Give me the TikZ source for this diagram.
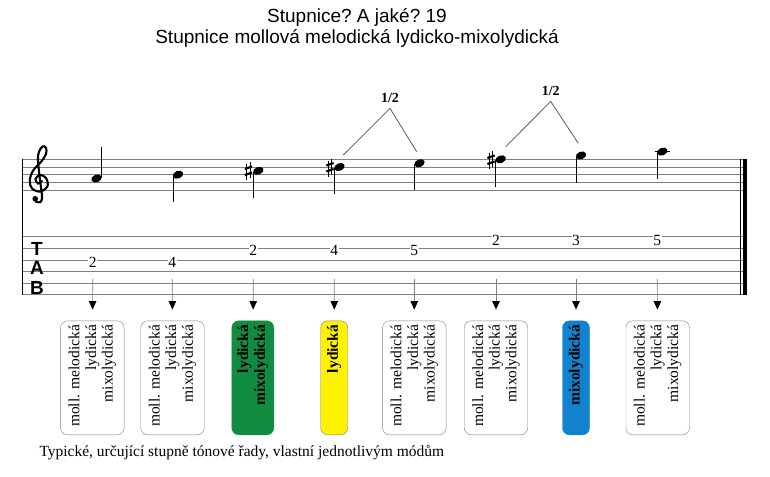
\documentclass[tikz,border=0pt]{standalone}
\usepackage{fontspec}
\setmainfont{Liberation Serif}
\newfontfamily\headfont{Liberation Sans}
\usepackage{tikz}
\usetikzlibrary{arrows.meta}
\usetikzlibrary{shapes.geometric}

\definecolor{modegreen}{RGB}{18,140,64}
\definecolor{modeyellow}{RGB}{255,242,0}
\definecolor{modeblue}{RGB}{16,130,206}
\definecolor{staffgray}{gray}{0.5}

\tikzset{
	sharpsign/.pic={
		\draw[line width=0.9] (-1.7,-7) -- (-1.7,9) (1.7,-9) -- (1.7,7);
		\draw[line width=2.2] (-3.6,-2) -- (3.6,-4.5) (-3.6,4) -- (3.6,1.5);
	}
}

\begin{document}
\frenchspacing
\begin{tikzpicture}[x=1pt, y=-1pt]
	\useasboundingbox (0,0) rectangle (770,476);
	\node[font=\headfont\fontsize{19}{19}\selectfont] (title) at (357,17) {Stupnice? A jaké? 19};
	\node[font=\headfont\fontsize{19}{19}\selectfont] (subtitle) at (357,38) {Stupnice mollová melodická lydicko-mixolydická};
	\begin{scope}[staffgray, line width=0.8]
		\foreach \y in {159.3,167,174.7,182.3,190} \draw (22.7,\y) -- (745,\y);
		\foreach \y in {236.7,248.3,260,271.5,283.1,294.7} \draw (22.7,\y) -- (745,\y);
	\end{scope}
	\draw[line width=0.9] (22.7,159.3) -- (22.7,294.7);
	\draw[line width=0.9] (740,159.3) -- (740,294.7);
	\draw[line width=4] (744.7,159.3) -- (744.7,294.7);
	\draw[line width=2.1, line cap=round] plot[smooth, tension=0.6] coordinates {(42,181) (38,183.5) (35.5,179) (40,175) (46,178) (47.5,186) (40.5,191.5) (32,188.5) (29.8,180) (33.5,170) (41,162) (46,154) (46,148) (43,146.3) (39.3,151) (38,160) (40,180) (42,196) (40.5,202) (35.5,201.5)};
	\fill (35.2,198.8) circle (2.8);
	\begin{scope}[every node/.style = {font = \headfont\bfseries\fontsize{19}{19}\selectfont, inner sep = 0}]
		\node (tT) at (37,249) {T};
		\node (tA) at (37,268) {A};
		\node (tB) at (37,288) {B};
	\end{scope}
	\begin{scope}[every node/.style = {ellipse, fill, minimum width = 10.8, minimum height = 7.6, inner sep = 0, rotate = 22}]
		\node (n1) at (96.5,178.5) {};
		\node (n2) at (178,174.7) {};
		\node (n3) at (258.3,170.8) {};
		\node (n4) at (339.5,167) {};
		\node (n5) at (419.5,163.2) {};
		\node (n6) at (500.7,159.3) {};
		\node (n7) at (581,155.5) {};
		\node (n8) at (662.3,151.6) {};
	\end{scope}
	\begin{scope}[line width=0.9]
		\draw (101.4,177.5) -- (101.4,147);
		\draw (173.1,175.5) -- (173.1,201.7);
		\draw (253.4,171.5) -- (253.4,198);
		\draw (334.6,167.8) -- (334.6,194);
		\draw (414.6,164) -- (414.6,190);
		\draw (495.8,160) -- (495.8,186.7);
		\draw (576.1,156.3) -- (576.1,182.7);
		\draw (657.4,152.4) -- (657.4,178.5);
		\draw (654.5,151.6) -- (670,151.6);
	\end{scope}
	\pic at (248.5,171) {sharpsign};
	\pic at (330,167.5) {sharpsign};
	\pic at (491,160) {sharpsign};
	\begin{scope}[every node/.style = {font = \bfseries\fontsize{14}{14}\selectfont, inner sep = 5.5}]
		\node (h1) at (390,98) {1/2};
		\node (h2) at (550.7,91) {1/2};
	\end{scope}
	\coordinate (e1) at (343.3,155);
	\coordinate (f1) at (416.7,151.7);
	\coordinate (e2) at (505.7,146.7);
	\coordinate (f2) at (578.3,143.3);
	\draw[staffgray!70!black, line width=0.8] (e1) -- (h1.south) -- (f1);
	\draw[staffgray!70!black, line width=0.8] (e2) -- (h2.south) -- (f2);
	\begin{scope}[every node/.style = {font = \fontsize{15.5}{15.5}\selectfont, fill = white, inner sep = 0.6}]
		\node (t1) at (92.7,262) {2};
		\node (t2) at (172.3,262) {4};
		\node (t3) at (253.3,250.7) {2};
		\node (t4) at (334.3,250.7) {4};
		\node (t5) at (414.3,250.7) {5};
		\node (t6) at (496,240) {2};
		\node (t7) at (576,240) {3};
		\node (t8) at (657.3,240) {5};
	\end{scope}
	\begin{scope}[every node/.style = {rotate = 90, rounded corners = 7, minimum width = 114, inner sep = 2,
			align = right, text width = 106, font = \fontsize{15.5}{16.7}\selectfont}]
		\node[draw = gray, minimum height = 63.5] (b1) at (92.3,377.8) {moll. melodická\\lydická\\mixolydická};
		\node[draw = gray, minimum height = 63.5] (b2) at (172.5,377.8) {moll. melodická\\lydická\\mixolydická};
		\node[draw = modegreen, fill = modegreen, minimum height = 42, font = \bfseries\fontsize{15.5}{16.7}\selectfont] (b3) at (252.8,377.8) {lydická\\mixolydická};
		\node[draw = gray, fill = modeyellow, minimum height = 27, font = \bfseries\fontsize{15.5}{16.7}\selectfont] (b4) at (334.2,377.8) {lydická};
		\node[draw = gray, minimum height = 63.5] (b5) at (414.3,377.8) {moll. melodická\\lydická\\mixolydická};
		\node[draw = gray, minimum height = 63.5] (b6) at (496,377.8) {moll. melodická\\lydická\\mixolydická};
		\node[draw = modeblue, fill = modeblue, minimum height = 27, font = \bfseries\fontsize{15.5}{16.7}\selectfont] (b7) at (576,377.8) {mixolydická};
		\node[draw = gray, minimum height = 63.5] (b8) at (657.7,377.8) {moll. melodická\\lydická\\mixolydická};
	\end{scope}
	\foreach \i/\x in {1/92.7,2/172.3,3/253.3,4/334.3,5/414.3,6/496,7/576,8/657.3}
		\coordinate (c\i) at (\x,279);
	\begin{scope}[>={Triangle[black, width = 7.5, length = 8.5]},
			every edge/.style={draw=staffgray, line width = 0.7, shorten > = 11}]
		\foreach \i in {1,...,8}
			\path [->] (c\i) edge (b\i);
	\end{scope}
	\node[anchor = west, font = \fontsize{15.5}{15.5}\selectfont, inner sep = 0] (caption) at (39.3,453) {Typické, určující stupně tónové řady, vlastní jednotlivým módům};
\end{tikzpicture}
\end{document}
